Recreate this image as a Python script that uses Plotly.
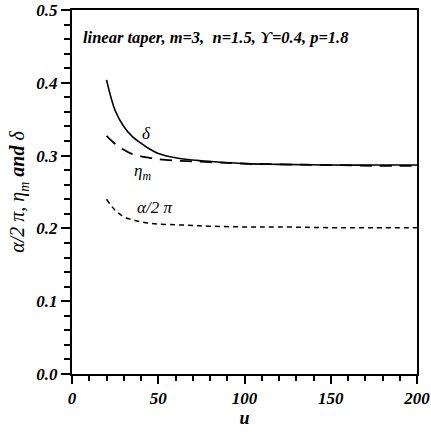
import plotly.graph_objects as go

u = [20, 25, 30, 35, 40, 45, 50, 60, 70, 80, 100, 120, 150, 175, 200]
delta = [0.404, 0.362, 0.340, 0.326, 0.317, 0.309, 0.303, 0.297, 0.294, 0.292, 0.289, 0.288, 0.287, 0.287, 0.287]
eta_m = [0.327, 0.316, 0.308, 0.302, 0.299, 0.297, 0.295, 0.293, 0.292, 0.291, 0.289, 0.288, 0.287, 0.286, 0.286]
alpha = [0.240, 0.225, 0.216, 0.212, 0.209, 0.207, 0.206, 0.205, 0.204, 0.203, 0.202, 0.202, 0.201, 0.201, 0.201]

xticks = [0, 50, 100, 150, 200]
yticks = [0.0, 0.1, 0.2, 0.3, 0.4, 0.5]

font = "Liberation Serif"

fig = go.Figure()
fig.add_trace(go.Scatter(x=u, y=delta, mode="lines", line=dict(color="black", width=1.6, shape="spline")))
fig.add_trace(go.Scatter(x=u, y=eta_m, mode="lines", line=dict(color="black", width=1.8, dash="12px,8px", shape="spline")))
fig.add_trace(go.Scatter(x=u, y=alpha, mode="lines", line=dict(color="black", width=1.5, dash="5px,4px", shape="spline")))

fig.update_layout(
    width=431, height=433,
    margin=dict(l=72, r=14, t=10, b=59),
    plot_bgcolor="white", paper_bgcolor="white",
    showlegend=False,
    font=dict(family=font, color="black"),
)
fig.update_xaxes(
    range=[0, 200], tickvals=xticks, ticktext=["<b><i>%d</i></b>" % v for v in xticks],
    ticks="outside", ticklen=8, tickwidth=1.5, tickcolor="black",
    minor=dict(dtick=10, ticks="outside", ticklen=5, tickwidth=1.5, tickcolor="black"),
    showline=True, linecolor="black", linewidth=2, mirror=True, showgrid=False, zeroline=False,
    tickfont=dict(size=17, family=font), automargin=False,
    title=dict(text="<b><i>u</i></b>", font=dict(size=18, family=font), standoff=4),
)
fig.update_yaxes(
    range=[0, 0.5], tickvals=yticks, ticktext=["<b><i>%.1f</i></b>" % v for v in yticks],
    ticks="outside", ticklen=9, tickwidth=1.5, tickcolor="black",
    minor=dict(dtick=0.02, ticks="outside", ticklen=6, tickwidth=1.5, tickcolor="black"),
    showline=True, linecolor="black", linewidth=2, mirror=True, showgrid=False, zeroline=False,
    tickfont=dict(size=17, family=font), automargin=False,
    title=dict(text="<i>α/2 π, η<sub>m</sub> <b>and</b> δ</i>", font=dict(size=20, family=font), standoff=6),
)

fig.add_annotation(x=0.025, y=0.925, xref="paper", yref="paper", xanchor="left", yanchor="middle",
                   text="<b><i>linear taper, m=3,  n=1.5, ϒ=0.4, p=1.8</i></b>", showarrow=False,
                   font=dict(size=16.5, family=font))
fig.add_annotation(x=43, y=0.330, text="<i>δ</i>", showarrow=False, font=dict(size=17, family=font))
fig.add_annotation(x=41, y=0.277, text="<i>η<sub>m</sub></i>", showarrow=False, font=dict(size=17, family=font))
fig.add_annotation(x=48, y=0.229, text="<i>α/2 π</i>", showarrow=False, font=dict(size=17, family=font))

fig.write_html("out.html", config={"displayModeBar": False},
               post_script="document.body.style.margin='0';document.body.style.overflow='hidden';")
